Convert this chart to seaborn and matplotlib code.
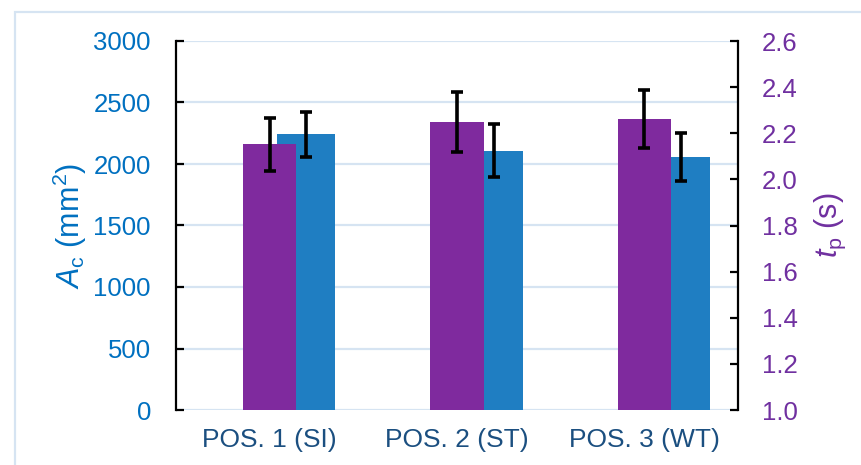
import matplotlib
matplotlib.use("Agg")
import matplotlib.pyplot as plt
import numpy as np
import pandas as pd
import seaborn as sns
from matplotlib.patches import Rectangle

# Dados
positions = ["POS. 1 (SI)", "POS. 2 (ST)", "POS. 3 (WT)"]
ac_mean = [2240, 2108, 2057]     # A_c (mm2), eixo esquerdo
ac_err = [186, 215, 193]
tp_mean = [2.152, 2.248, 2.263]  # t_p (s), eixo direito
tp_err = [0.114, 0.130, 0.125]

ac_ticks = [0, 500, 1000, 1500, 2000, 2500, 3000]
tp_ticks = [1.0, 1.2, 1.4, 1.6, 1.8, 2.0, 2.2, 2.4, 2.6]

BLUE = "#1F7EC2"
PURPLE = "#7F2A9E"
BLUE_TXT = "#0070C0"
PURPLE_TXT = "#7030A0"
XLAB_TXT = "#1B4F80"
GRID = "#D6E4F2"

sns.set_theme(style="white")
plt.rcParams["font.family"] = ["Liberation Sans", "DejaVu Sans"]
plt.rcParams["mathtext.fontset"] = "custom"
plt.rcParams["mathtext.rm"] = "Liberation Sans"
plt.rcParams["mathtext.it"] = "Liberation Sans:italic"

x = np.arange(len(positions))
off = 0.195
df_ac = pd.DataFrame({"x": x + off, "val": ac_mean})
df_tp = pd.DataFrame({"x": x.astype(float), "val": tp_mean})

fig = plt.figure(figsize=(8.62, 4.65), dpi=100)
ax = fig.add_axes([176 / 862, 1 - 410 / 465, (738 - 176) / 862, (410 - 41) / 465])
ax2 = ax.twinx()

# Barras A_c (azul) no eixo principal
sns.barplot(data=df_ac, x="x", y="val", native_scale=True, width=0.31,
            color=BLUE, saturation=1, ax=ax, errorbar=None, zorder=2,
            linewidth=0, edgecolor=BLUE)
ax.errorbar(x + off, ac_mean, yerr=ac_err, fmt="none", ecolor="black",
            elinewidth=2.6, capsize=4.5, capthick=2.6, zorder=3)

# Barras t_p (roxo) no eixo secundario, por cima
sns.barplot(data=df_tp, x="x", y="val", native_scale=True, width=0.286,
            color=PURPLE, saturation=1, ax=ax2, errorbar=None, zorder=2,
            linewidth=0, edgecolor=PURPLE)
ax2.errorbar(x, tp_mean, yerr=tp_err, fmt="none", ecolor="black",
             elinewidth=2.6, capsize=4.5, capthick=2.6, zorder=3)

for a in (ax, ax2):
    a.set_xlim(-0.5, 2.5)
ax.set_ylim(0, 3000)
ax2.set_ylim(1.0, 2.6)

ax.set_yticks(ac_ticks)
ax.set_yticklabels([str(t) for t in ac_ticks])
ax2.set_yticks(tp_ticks)
ax2.set_yticklabels([f"{t:.1f}" for t in tp_ticks])
ax.set_xticks(x)
ax.set_xticklabels(positions)
ax2.set_xticks(x)

ax.set_axisbelow(True)
ax.yaxis.grid(True, color=GRID, linewidth=1.6)
ax.xaxis.grid(False)
ax2.grid(False)

for a in (ax, ax2):
    for s in ("top", "bottom", "left", "right"):
        a.spines[s].set_visible(False)
ax.spines["left"].set_visible(True)
ax.spines["left"].set_color("black")
ax.spines["left"].set_linewidth(1.6)
ax2.spines["right"].set_visible(True)
ax2.spines["right"].set_color("black")
ax2.spines["right"].set_linewidth(1.6)

ax.tick_params(axis="y", direction="in", length=6, width=1.6, color="black",
               labelsize=18.5, labelcolor=BLUE_TXT, pad=18, left=True)
ax2.tick_params(axis="y", direction="in", length=6, width=1.6, color="black",
                labelsize=18.5, labelcolor=PURPLE_TXT, pad=17, right=True)
ax.tick_params(axis="x", length=0, labelsize=19, labelcolor=XLAB_TXT, pad=13)
ax2.tick_params(axis="x", length=0, labelbottom=False)

ax.set_xlabel("")
ax2.set_xlabel("")
ax.set_ylabel(r"$\mathit{A}_\mathrm{c}$ (mm$^2$)", fontsize=22, color=BLUE_TXT, va="center")
ax.yaxis.set_label_coords((70 - 176) / 562, 0.5)
ax2.set_ylabel(r"$\mathit{t}_\mathrm{p}$ (s)", fontsize=22, color=PURPLE_TXT,
               va="center", rotation=90)
ax2.yaxis.set_label_coords((830 - 176) / 562, 0.5)

# moldura do grafico (borda azul clara)
fig.patches.append(Rectangle((15 / 862, -0.1), 1.2, 1 - 12 / 465 + 0.1,
                             transform=fig.transFigure, fill=False,
                             edgecolor=GRID, linewidth=1.6))

fig.savefig("out.png", dpi=100)
